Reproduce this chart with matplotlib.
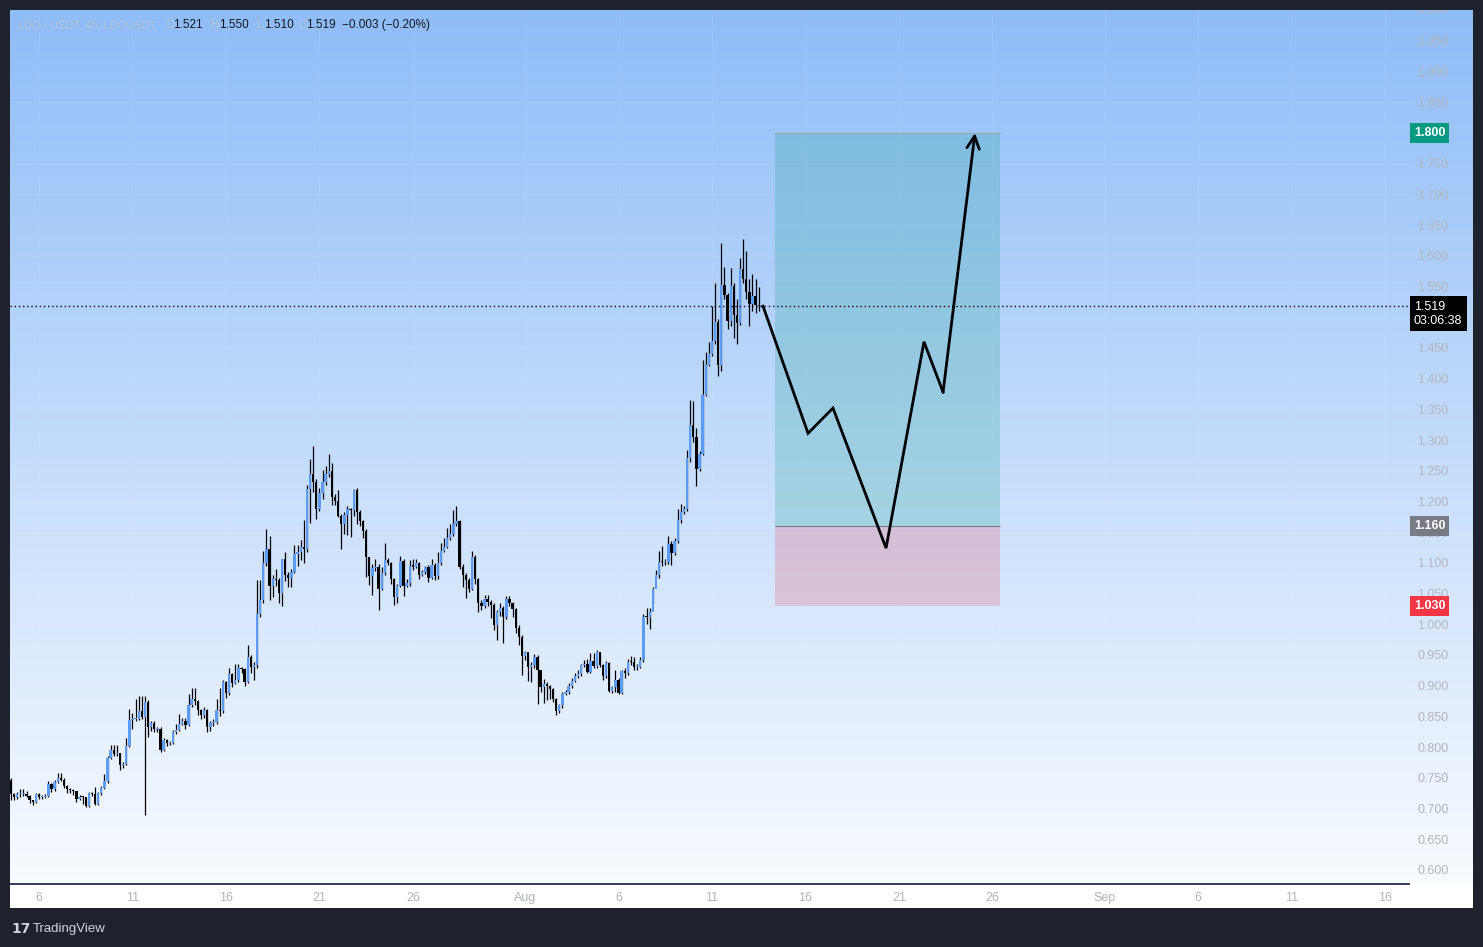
import numpy as np
import pandas as pd
import matplotlib
matplotlib.use('Agg')
import matplotlib.pyplot as plt
import matplotlib.dates as mdates
import matplotlib.transforms as mtransforms
from matplotlib.patches import Rectangle
from matplotlib.colors import LinearSegmentedColormap

plt.rcParams['font.family'] = ['Liberation Sans', 'DejaVu Sans']

# ---- data (LDO / USDT, 4h candles) ----
start = '2025-07-04 12:00'
first_open = 0.746

closes = [
    0.7235, 0.718, 0.7235, 0.724, 0.724, 0.721, 0.7145, 0.711, 0.7235, 0.718,
    0.7185, 0.720, 0.740, 0.731, 0.743, 0.750, 0.747, 0.736, 0.731, 0.730,
    0.728, 0.716, 0.719, 0.718, 0.704, 0.725, 0.724, 0.707, 0.725, 0.734,
    0.744, 0.782, 0.795, 0.789, 0.790, 0.770, 0.773, 0.802, 0.844, 0.846,
    0.846, 0.859, 0.849, 0.874, 0.833, 0.839, 0.829, 0.830, 0.796, 0.811,
    0.806, 0.807, 0.824, 0.828, 0.838, 0.842, 0.836, 0.868, 0.878, 0.875,
    0.860, 0.853, 0.860, 0.833, 0.839, 0.841, 0.860, 0.859, 0.906, 0.888,
    0.919, 0.904, 0.910, 0.928, 0.927, 0.906, 0.947, 0.931, 0.934, 1.016,
    1.039, 1.100,
    1.122, 1.062, 1.073, 1.072, 1.051, 1.106, 1.081, 1.076, 1.085, 1.115,
    1.118, 1.125, 1.122, 1.221, 1.244, 1.232, 1.188, 1.213, 1.231, 1.245,
    1.250, 1.208, 1.201, 1.177, 1.164, 1.178, 1.187, 1.186, 1.219, 1.182,
    1.168, 1.152, 1.109, 1.079, 1.092, 1.093, 1.058, 1.084, 1.105, 1.100,
    1.073, 1.045, 1.063, 1.103, 1.062, 1.067, 1.095, 1.094, 1.100, 1.081,
    1.085, 1.093, 1.076, 1.096, 1.078, 1.099, 1.120, 1.126, 1.140, 1.147,
    1.163, 1.168, 1.094, 1.081, 1.072, 1.058, 1.110, 1.073, 1.034, 1.029,
    1.041, 1.037, 1.032, 0.998, 1.020, 1.027, 1.012, 1.041, 1.034, 1.025,
    0.994, 0.980,
    0.949, 0.954, 0.931, 0.934, 0.947, 0.925, 0.897, 0.903, 0.899, 0.894,
    0.878, 0.858, 0.868, 0.886, 0.890, 0.899, 0.907, 0.916, 0.919, 0.933,
    0.935, 0.923, 0.940, 0.932, 0.955, 0.934, 0.915, 0.937, 0.891, 0.897,
    0.909, 0.888, 0.924, 0.920, 0.939, 0.938, 0.930, 0.931, 0.942, 1.012,
    1.011, 1.020, 1.057, 1.080, 1.102, 1.101, 1.102, 1.131, 1.116, 1.135,
    1.169, 1.183, 1.187, 1.271, 1.324, 1.305, 1.253, 1.278, 1.374, 1.422,
    1.440, 1.461, 1.493, 1.422, 1.552, 1.536, 1.494, 1.551, 1.504, 1.491,
    1.578, 1.563, 1.541, 1.521, 1.535, 1.520, 1.519,
]

highs = [
    0.749, 0.726, 0.727, 0.731, 0.731, 0.728, 0.722, 0.714, 0.726, 0.725,
    0.722, 0.724, 0.745, 0.742, 0.746, 0.757, 0.757, 0.749, 0.738, 0.733,
    0.731, 0.729, 0.722, 0.721, 0.719, 0.727, 0.727, 0.735, 0.727, 0.737,
    0.756, 0.786, 0.803, 0.803, 0.803, 0.791, 0.776, 0.814, 0.862, 0.856,
    0.878, 0.883, 0.883, 0.883, 0.876, 0.843, 0.842, 0.833, 0.832, 0.815,
    0.813, 0.810, 0.827, 0.838, 0.854, 0.848, 0.848, 0.887, 0.896, 0.896,
    0.877, 0.862, 0.866, 0.862, 0.842, 0.845, 0.878, 0.896, 0.910, 0.907,
    0.928, 0.921, 0.936, 0.936, 0.931, 0.928, 0.967, 0.950, 0.939, 1.072,
    1.072, 1.119,
    1.155, 1.144, 1.080, 1.090, 1.075, 1.107, 1.118, 1.085, 1.090, 1.129,
    1.129, 1.137, 1.170, 1.226, 1.269, 1.290, 1.236, 1.222, 1.252, 1.258,
    1.278, 1.263, 1.212, 1.219, 1.180, 1.183, 1.192, 1.190, 1.221, 1.222,
    1.186, 1.170, 1.155, 1.110, 1.098, 1.107, 1.098, 1.094, 1.133, 1.108,
    1.102, 1.075, 1.066, 1.111, 1.106, 1.073, 1.105, 1.107, 1.107, 1.102,
    1.089, 1.095, 1.097, 1.107, 1.099, 1.118, 1.133, 1.140, 1.156, 1.164,
    1.186, 1.193, 1.170, 1.098, 1.084, 1.075, 1.120, 1.112, 1.076, 1.040,
    1.048, 1.047, 1.040, 1.034, 1.023, 1.034, 1.030, 1.046, 1.046, 1.037,
    1.026, 0.998,
    0.982, 0.956, 0.952, 0.938, 0.951, 0.950, 0.906, 0.911, 0.906, 0.901,
    0.896, 0.880, 0.870, 0.889, 0.893, 0.905, 0.912, 0.921, 0.925, 0.936,
    0.941, 0.944, 0.953, 0.953, 0.958, 0.955, 0.936, 0.940, 0.939, 0.899,
    0.926, 0.912, 0.926, 0.928, 0.944, 0.948, 0.947, 0.936, 0.947, 1.016,
    1.026, 1.027, 1.060, 1.089, 1.120, 1.127, 1.107, 1.144, 1.135, 1.140,
    1.187, 1.196, 1.192, 1.284, 1.366, 1.364, 1.319, 1.282, 1.430, 1.444,
    1.460, 1.518, 1.556, 1.497, 1.621, 1.581, 1.540, 1.580, 1.556, 1.530,
    1.597, 1.627, 1.608, 1.563, 1.570, 1.563, 1.550,
]

lows = [
    0.714, 0.714, 0.716, 0.719, 0.720, 0.719, 0.709, 0.7055, 0.709, 0.715,
    0.716, 0.717, 0.718, 0.727, 0.729, 0.741, 0.744, 0.733, 0.726, 0.726,
    0.722, 0.711, 0.713, 0.708, 0.703, 0.703, 0.720, 0.705, 0.705, 0.722,
    0.732, 0.742, 0.780, 0.786, 0.785, 0.763, 0.766, 0.770, 0.800, 0.829,
    0.842, 0.844, 0.845, 0.690, 0.816, 0.826, 0.824, 0.824, 0.792, 0.793,
    0.801, 0.803, 0.805, 0.822, 0.826, 0.836, 0.830, 0.834, 0.866, 0.869,
    0.852, 0.846, 0.848, 0.825, 0.826, 0.834, 0.838, 0.851, 0.856, 0.880,
    0.884, 0.898, 0.902, 0.906, 0.920, 0.900, 0.904, 0.920, 0.910, 0.928,
    1.012, 1.035,
    1.095, 1.040, 1.045, 1.062, 1.034, 1.029, 1.071, 1.061, 1.061, 1.083,
    1.095, 1.105, 1.100, 1.118, 1.165, 1.215, 1.172, 1.184, 1.204, 1.226,
    1.240, 1.195, 1.195, 1.174, 1.123, 1.147, 1.145, 1.142, 1.176, 1.164,
    1.160, 1.140, 1.077, 1.064, 1.048, 1.086, 1.023, 1.055, 1.080, 1.096,
    1.066, 1.031, 1.034, 1.060, 1.046, 1.060, 1.062, 1.088, 1.092, 1.073,
    1.078, 1.082, 1.069, 1.073, 1.072, 1.074, 1.096, 1.118, 1.124, 1.138,
    1.143, 1.160, 1.090, 1.060, 1.042, 1.052, 1.055, 1.066, 1.020, 1.023,
    1.027, 1.030, 1.010, 0.991, 0.975, 1.014, 0.969, 1.008, 1.030, 1.012,
    0.985, 0.967,
    0.917, 0.941, 0.908, 0.906, 0.929, 0.870, 0.890, 0.872, 0.877, 0.879,
    0.874, 0.852, 0.855, 0.864, 0.884, 0.887, 0.896, 0.906, 0.912, 0.916,
    0.930, 0.920, 0.920, 0.928, 0.929, 0.931, 0.910, 0.913, 0.890, 0.888,
    0.889, 0.887, 0.886, 0.913, 0.917, 0.933, 0.925, 0.926, 0.928, 0.938,
    1.000, 0.993, 1.035, 1.073, 1.076, 1.095, 1.096, 1.098, 1.097, 1.112,
    1.133, 1.165, 1.180, 1.184, 1.265, 1.296, 1.225, 1.250, 1.276, 1.372,
    1.420, 1.437, 1.456, 1.404, 1.413, 1.530, 1.480, 1.486, 1.466, 1.457,
    1.487, 1.555, 1.530, 1.485, 1.510, 1.507, 1.510,
]

# long position tool
entry, target, stop = 1.160, 1.800, 1.030
box_start, box_end = '2025-08-14 09:00', '2025-08-26 10:00'

# hand-drawn projection path
path_times = ['2025-08-13 17:30', '2025-08-16 03:20', '2025-08-17 11:20', '2025-08-20 07:30',
              '2025-08-22 08:10', '2025-08-23 08:40', '2025-08-25 01:40']
path_prices = [1.518, 1.311, 1.352, 1.124, 1.460, 1.378, 1.800]

last_price = 1.519
countdown = '03:06:38'

xtick_dates = ['2025-07-06', '2025-07-11', '2025-07-16', '2025-07-21', '2025-07-26', '2025-08-01',
               '2025-08-06', '2025-08-11', '2025-08-16', '2025-08-21', '2025-08-26', '2025-09-01',
               '2025-09-06', '2025-09-11', '2025-09-16']
xtick_labels = ['6', '11', '16', '21', '26', 'Aug', '6', '11', '16', '21', '26', 'Sep', '6', '11', '16']

# ---- figure ----
W, H = 1483, 947
fig = plt.figure(figsize=(W / 100, H / 100), dpi=100, facecolor='#1e222d')


def px_rect(x0, y0, x1, y1):
    return [x0 / W, 1 - y1 / H, (x1 - x0) / W, (y1 - y0) / H]


# gradient background of the pane (incl. price scale)
bg = fig.add_axes(px_rect(10, 10, 1473, 884), zorder=0)
cmap = LinearSegmentedColormap.from_list('tv', ['#8fbdf8', '#f8fbff'])
bg.imshow(np.linspace(0, 1, 256).reshape(-1, 1), aspect='auto', cmap=cmap,
          extent=[0, 1, 0, 1], origin='upper')
bg.set_axis_off()

# white time-scale strip
strip = fig.add_axes(px_rect(10, 884, 1473, 908), zorder=0)
strip.set_facecolor('white')
strip.set_xticks([])
strip.set_yticks([])
for s in strip.spines.values():
    s.set_visible(False)

ax = fig.add_axes(px_rect(10, 10, 1409, 884), zorder=2)
ax.patch.set_visible(False)

times = pd.date_range(start, periods=len(closes), freq='4h')
t = mdates.date2num(times)
opens = [first_open] + closes[:-1]
o = np.array(opens)
c = np.array(closes)
up = c >= o

ax.vlines(t, lows, highs, color='black', lw=0.9, zorder=3)
body_w = 0.75 / 6
heights = np.maximum(np.abs(c - o), 0.0017)
ax.bar(t, heights, bottom=np.minimum(o, c), width=body_w,
       color=np.where(up, '#5b9cf6', '#000000'), linewidth=0, zorder=4)

# position tool boxes
b0, b1 = mdates.datestr2num(box_start), mdates.datestr2num(box_end)
ax.add_patch(Rectangle((b0, entry), b1 - b0, target - entry, facecolor='#089981',
                       alpha=0.2, edgecolor='none', zorder=1))
ax.add_patch(Rectangle((b0, stop), b1 - b0, entry - stop, facecolor='#f23645',
                       alpha=0.2, edgecolor='none', zorder=1))
ax.hlines([entry], b0, b1, color='#787b86', lw=0.8, zorder=2)
ax.hlines([target], b0, b1, color='#9aa0ab', lw=0.6, zorder=2)

# projection path with arrow
pt = mdates.datestr2num(path_times)
ax.plot(pt[:-1], path_prices[:-1], color='black', lw=2, zorder=6, solid_joinstyle='miter')
ax.annotate('', xy=(pt[-1], path_prices[-1]), xytext=(pt[-2], path_prices[-2]),
            arrowprops=dict(arrowstyle='->,head_length=0.9,head_width=0.45', color='black',
                            lw=2, shrinkA=0, shrinkB=0), zorder=6)

# last price dotted line
ax.axhline(last_price, color='black', lw=1, ls=(0, (1, 2)), zorder=5)

# axes setup
x_left = mdates.datestr2num('2025-07-06') - 29 / 18.694
x_right = mdates.datestr2num('2025-07-06') + 1370 / 18.694
ax.set_xlim(x_left, x_right)
ax.set_ylim(0.577, 2.0003)

ax.set_xticks(mdates.datestr2num(xtick_dates))
ax.set_xticklabels(xtick_labels)
# price labels hidden behind the 1.800 and last-price badges are left out
yt = [v for v in np.round(np.arange(0.60, 1.951, 0.05), 3) if v not in (1.5, 1.8)]
ax.set_yticks(yt)
ax.set_yticklabels([f'{v:.3f}' for v in yt])
ax.yaxis.tick_right()
ax.tick_params(axis='both', length=0, labelsize=9, labelcolor='#b2b5be')
ax.tick_params(axis='x', pad=6)
ax.tick_params(axis='y', pad=6)
ax.grid(True, color='white', alpha=0.06, lw=0.8)
ax.set_axisbelow(True)
for side in ['top', 'left', 'right']:
    ax.spines[side].set_visible(False)
ax.spines['bottom'].set_color('#131a3a')
ax.spines['bottom'].set_linewidth(1.2)

# clipped top label of the price scale
ytrans = mtransforms.blended_transform_factory(ax.transAxes, ax.transData)
lab = ax.text(1.0 + 8 / 1399, 2.0, '2.000', transform=ytrans, fontsize=9, color='#b2b5be',
              ha='left', va='center')
lab.set_clip_box(bg.bbox)
lab.set_clip_on(True)


# price badges
def badge(price, text, fc):
    ax.text(1.0 + 5 / 1399, price, text, transform=ytrans, fontsize=9, color='white',
            fontweight='bold', ha='left', va='center', zorder=10, clip_on=False,
            bbox=dict(boxstyle='square,pad=0.3', fc=fc, ec='none'))


badge(target, f'{target:.3f}', '#089981')
badge(entry, f'{entry:.3f}', '#787b86')
badge(stop, f'{stop:.3f}', '#f23645')
off = mtransforms.offset_copy(ytrans, fig=fig, y=5, units='dots')
ax.text(1.0 + 5 / 1399, last_price, f'{last_price:.3f}\n{countdown}', transform=off,
        fontsize=9, color='white', ha='left', va='top', zorder=10, clip_on=False,
        linespacing=1.25, bbox=dict(boxstyle='square,pad=0.35', fc='black', ec='none'))

# header legend
hy = 1 - 25 / H
fig.text(18 / W, hy, 'LDO / USDT, 4h, LDOUSDT', fontsize=8, color='#b4bfd1', va='center')
parts = [(165, 'O', '#b4bfd1'), (173, '1.521', '#131722'),
         (211, 'H', '#b4bfd1'), (219, '1.550', '#131722'),
         (257, 'L', '#b4bfd1'), (264, '1.510', '#131722'),
         (298, 'C', '#b4bfd1'), (306, '1.519', '#131722'),
         (342, '\u22120.003 (\u22120.20%)', '#131722')]
for px, s, col in parts:
    fig.text(px / W, hy, s, fontsize=8.5, color=col, va='center')

# footer
fig.text(11 / W, 1 - 929 / H, '17', fontsize=10, color='#d1d4dc', fontweight='heavy',
         va='center', family='DejaVu Sans')
fig.text(33 / W, 1 - 929 / H, 'TradingView', fontsize=9.5, color='#d1d4dc', va='center')

fig.savefig('out.png', dpi=100, facecolor=fig.get_facecolor())
